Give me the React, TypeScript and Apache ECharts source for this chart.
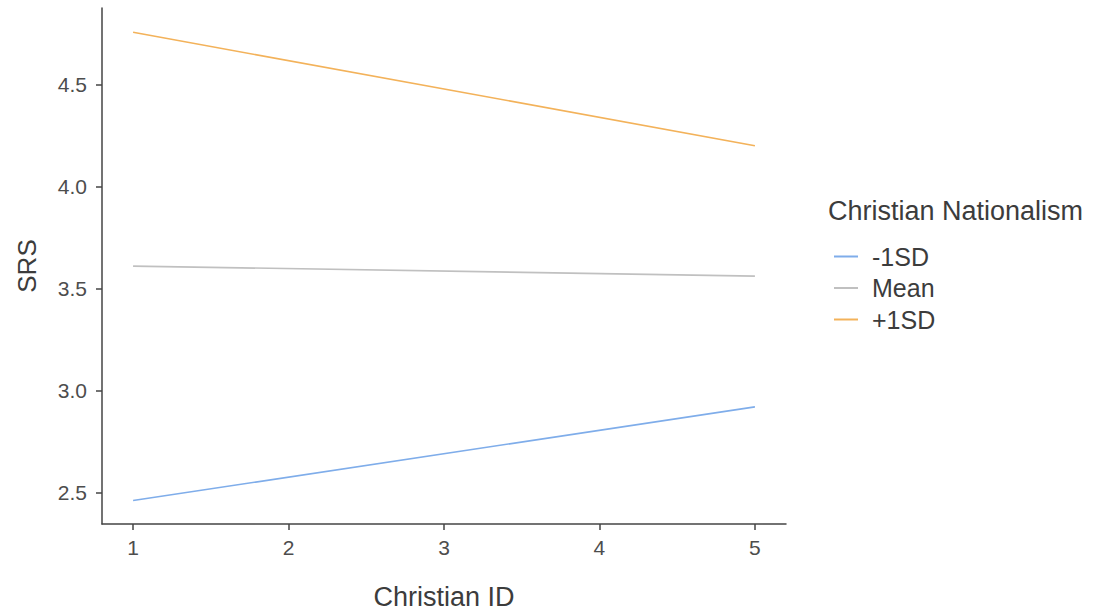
import React, { useEffect, useRef } from "react";
import * as echarts from "echarts";

const xValues = [1, 5];
const seriesNames = ["-1SD", "Mean", "+1SD"];
const lowValues = [2.461, 2.92];
const meanValues = [3.61, 3.561];
const highValues = [4.756, 4.2];
const xTicks = [1, 2, 3, 4, 5];
const yTicks = [2.5, 3.0, 3.5, 4.0, 4.5];
const colors = ["#7fadea", "#c0c0c0", "#f3b25a"];

const FONT = "Liberation Sans, Arial, sans-serif";

export default function App() {
  const ref = useRef<HTMLDivElement>(null);
  useEffect(() => {
    if (!ref.current) return;
    const chart = echarts.init(ref.current, null, { renderer: "svg" });
    const allValues = [lowValues, meanValues, highValues];
    chart.setOption({
      animation: false,
      backgroundColor: "#ffffff",
      textStyle: { fontFamily: FONT },
      grid: { left: 102, right: 316, top: 8, bottom: 91, containLabel: false },
      xAxis: {
        type: "value",
        min: 0.8,
        max: 5.2,
        name: "Christian ID",
        nameLocation: "middle",
        nameGap: 59,
        nameTextStyle: { fontSize: 27, color: "#3c3c3c", fontFamily: FONT },
        axisLine: { show: true, lineStyle: { color: "#444", width: 1.5 } },
        axisTick: { show: true, length: 6, customValues: xTicks, lineStyle: { color: "#444", width: 1.5 } },
        axisLabel: { customValues: xTicks, margin: 13, fontSize: 21, color: "#4d4d4d", fontFamily: FONT },
        splitLine: { show: false },
      },
      yAxis: {
        type: "value",
        min: 2.346,
        max: 4.875,
        name: "SRS",
        nameLocation: "middle",
        nameGap: 62,
        nameRotate: 90,
        nameTextStyle: { fontSize: 26, color: "#3c3c3c", fontFamily: FONT },
        axisLine: { show: true, lineStyle: { color: "#444", width: 1.5 } },
        axisTick: { show: true, length: 6, customValues: yTicks, lineStyle: { color: "#444", width: 1.5 } },
        axisLabel: {
          customValues: yTicks,
          margin: 15,
          fontSize: 21,
          color: "#4d4d4d",
          fontFamily: FONT,
          formatter: (v: number) => v.toFixed(1),
        },
        splitLine: { show: false },
      },
      legend: {
        orient: "vertical",
        left: 829,
        top: 239,
        itemWidth: 24,
        itemHeight: 2,
        itemGap: 6.5,
        icon: "rect",
        data: seriesNames,
        textStyle: { fontSize: 25, lineHeight: 25, color: "#3c3c3c", fontFamily: FONT, padding: [0, 0, 0, 9] },
      },
      graphic: [
        {
          type: "text",
          left: 828,
          top: 197,
          style: { text: "Christian Nationalism", fontSize: 27, fill: "#3c3c3c", fontFamily: FONT },
        },
      ],
      series: seriesNames.map((name, i) => ({
        name,
        type: "line",
        data: xValues.map((x, j) => [x, allValues[i][j]]),
        showSymbol: false,
        symbol: "none",
        lineStyle: { color: colors[i], width: 1.6 },
        itemStyle: { color: colors[i] },
      })),
    });
    return () => chart.dispose();
  }, []);
  return (
    <div
      ref={ref}
      style={{ position: "fixed", left: 0, top: 0, width: 1102, height: 615, background: "#fff" }}
    />
  );
}
